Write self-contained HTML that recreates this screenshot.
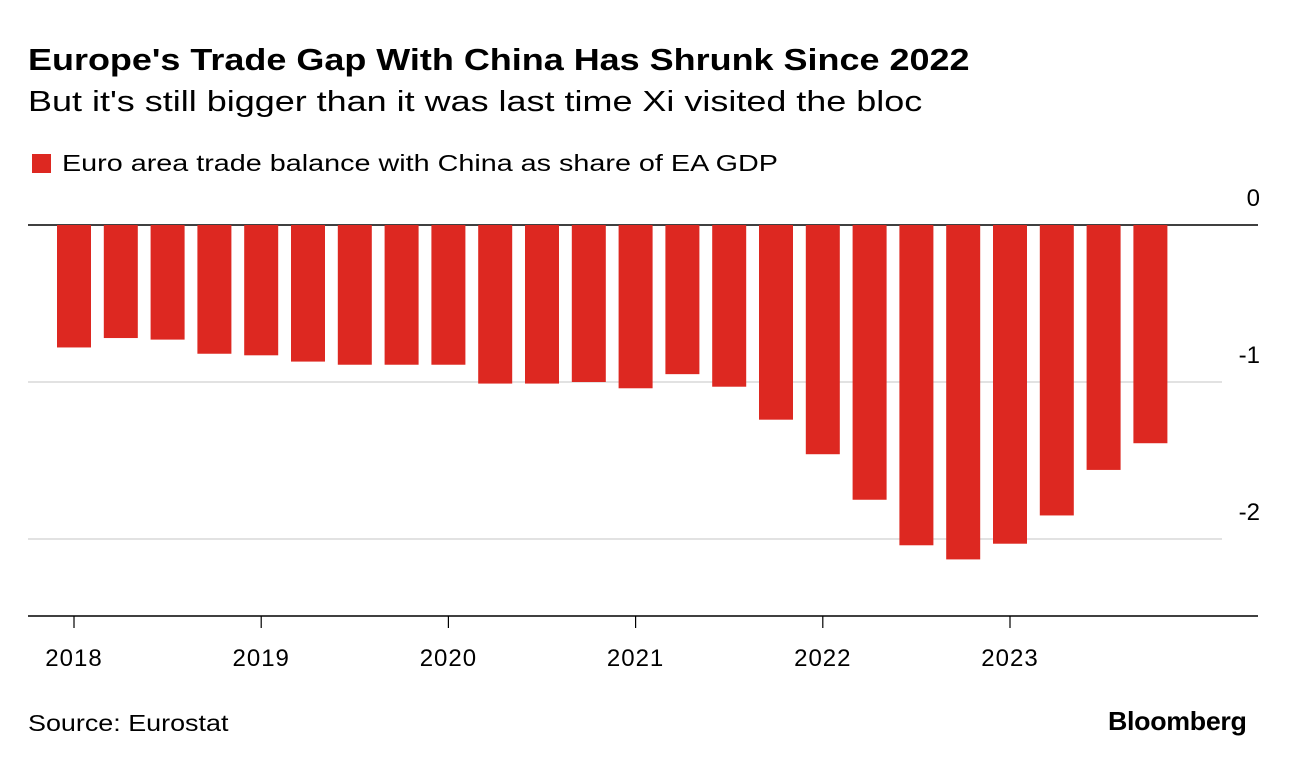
<!DOCTYPE html>
<html><head><meta charset="utf-8"><style>
body{margin:0;width:1289px;height:766px;background:#fff;font-family:"Liberation Sans",sans-serif;position:relative;overflow:hidden}
.t{position:absolute;white-space:nowrap;color:#000;transform-origin:left top}
</style></head><body>
<div class="t" style="left:28px;top:42px;font-size:31px;font-weight:bold;transform:scaleX(1.16)">Europe's Trade Gap With China Has Shrunk Since 2022</div>
<div class="t" style="left:28px;top:86px;font-size:29px;transform:scaleX(1.24)">But it's still bigger than it was last time Xi visited the bloc</div>
<div style="position:absolute;left:32px;top:154px;width:19px;height:19px;background:#dd2821"></div>
<div class="t" style="left:62px;top:150px;font-size:23px;transform:scaleX(1.25)">Euro area trade balance with China as share of EA GDP</div>
<div class="t" style="left:28px;top:710px;font-size:23px;transform:scaleX(1.17)">Source: Eurostat</div>
<div class="t" style="left:1108px;top:706px;font-size:26px;font-weight:bold;letter-spacing:-0.3px;transform:scaleX(1.03)">Bloomberg</div>
<svg id="c" width="1289" height="766" style="position:absolute;left:0;top:0"></svg>
<script>
const values=[-0.78,-0.72,-0.73,-0.82,-0.83,-0.87,-0.89,-0.89,-0.89,-1.01,-1.01,-1.00,-1.04,-0.95,-1.03,-1.24,-1.46,-1.75,-2.04,-2.13,-2.03,-1.85,-1.56,-1.39];
const yTicks=[0,-1,-2];
const yearLabels=["2018","2019","2020","2021","2022","2023"];
const NS="http://www.w3.org/2000/svg";
const svg=document.getElementById('c');
const y=v=>225-v*157;
const xc=i=>74+i*46.8;
function mk(t,a){const e=document.createElementNS(NS,t);for(const k in a)e.setAttribute(k,a[k]);svg.appendChild(e);return e;}
yTicks.forEach(v=>{
 const l=mk('line',{x1:28,x2:v===0?1258:1222,y1:y(v),y2:y(v),stroke:v===0?'#000':'#d9d9d9','stroke-width':1.5});
 
 
 const tx=mk('text',{x:1260,y:y(v)-19,'text-anchor':'end','font-size':24,'font-family':'Liberation Sans'});
 tx.textContent=v===0?'0':String(v);
 
 
});
values.forEach((v,i)=>{
 const r=mk('rect',{x:xc(i)-17,y:y(0),width:34,height:y(v)-y(0),fill:'#dd2821'});
 
 
});
mk('line',{x1:28,x2:1258,y1:616,y2:616,stroke:'#000','stroke-width':1.5});
yearLabels.forEach((lab,j)=>{
 const x=xc(j*4);
 const tk=mk('line',{x1:x,x2:x,y1:616,y2:628,stroke:'#000','stroke-width':1.2});
 
 
 const tx=mk('text',{x:x,y:666,'text-anchor':'middle','font-size':24,'letter-spacing':1,'font-family':'Liberation Sans'});
 tx.textContent=lab;
 
 
});
</script>
</body></html>
